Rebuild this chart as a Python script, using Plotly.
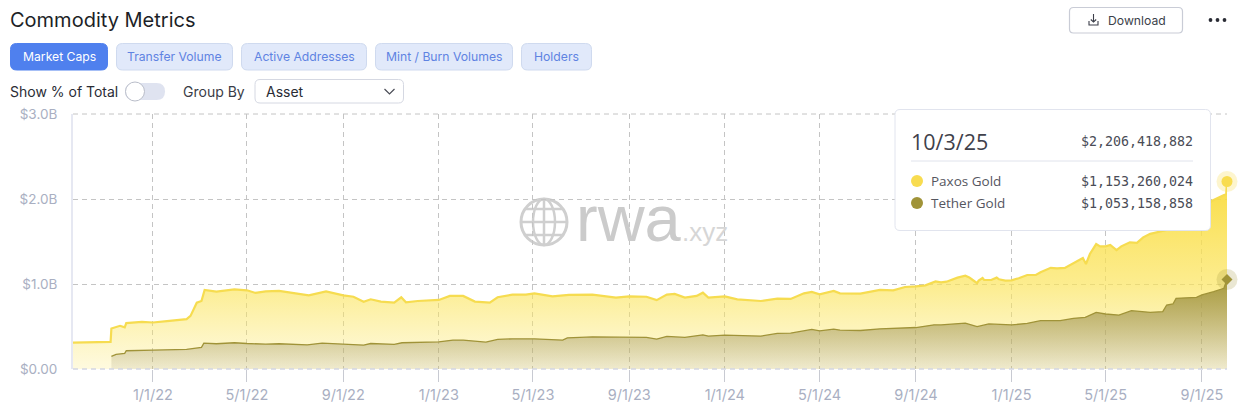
import plotly.graph_objects as go

# ---------- data ----------
total_dates = ["2021-09-21","2021-10-10","2021-10-30","2021-11-08","2021-11-09","2021-11-20","2021-11-26","2021-11-28","2021-12-18",
 "2022-01-01","2022-01-19","2022-02-13","2022-02-18","2022-02-24","2022-02-26","2022-03-04","2022-03-08","2022-03-23","2022-04-15",
 "2022-05-01","2022-05-12","2022-05-25","2022-06-11","2022-07-02","2022-07-19","2022-08-10","2022-09-01","2022-09-14","2022-09-27",
 "2022-10-06","2022-10-19","2022-11-05","2022-11-14","2022-11-20","2022-12-05","2023-01-01","2023-01-15","2023-02-01","2023-02-16",
 "2023-03-07","2023-03-17","2023-04-05","2023-04-22","2023-05-03","2023-05-26","2023-06-16","2023-07-16","2023-08-15","2023-09-01",
 "2023-09-23","2023-10-06","2023-10-19","2023-10-29","2023-11-11","2023-11-26","2023-12-04","2023-12-11","2024-01-01","2024-01-17",
 "2024-02-16","2024-03-08","2024-03-25","2024-04-11","2024-04-21","2024-05-01","2024-05-19","2024-05-27","2024-06-22","2024-07-17",
 "2024-08-03","2024-08-18","2024-09-01","2024-09-13","2024-09-26","2024-10-03","2024-10-10","2024-10-16","2024-10-24","2024-11-03","2024-11-08",
 "2024-11-12","2024-11-18","2024-11-20","2024-11-25","2024-11-27","2024-12-03","2024-12-06","2024-12-13","2024-12-16","2024-12-24","2025-01-01","2025-01-11",
 "2025-01-21","2025-02-01","2025-02-07","2025-02-20","2025-02-28","2025-03-10","2025-03-21","2025-04-02","2025-04-06","2025-04-11",
 "2025-04-19","2025-04-24","2025-05-01","2025-05-07","2025-05-15","2025-05-21","2025-06-01","2025-06-10","2025-06-18","2025-06-27","2025-07-18","2025-08-01","2025-08-12",
 "2025-09-01","2025-09-14","2025-09-29","2025-10-02","2025-10-03"]
total_values = [0.31,0.315,0.318,0.32,0.477,0.508,0.49,0.54,0.555,
 0.547,0.5625,0.586,0.625,0.734,0.78,0.80,0.93,0.91,0.9375,
 0.926,0.895,0.914,0.92,0.89,0.867,0.914,0.867,0.85,0.79,
 0.82,0.793,0.78,0.844,0.785,0.80,0.8125,0.86,0.86,0.793,
 0.78,0.844,0.875,0.875,0.89,0.855,0.871,0.875,0.84,0.855,
 0.85,0.81,0.875,0.883,0.84,0.86,0.898,0.84,0.855,0.82,
 0.80,0.828,0.824,0.89,0.906,0.879,0.918,0.89,0.887,0.93,
 0.926,0.965,0.973,0.984,1.03,1.02,1.027,1.05,1.075,1.098,1.078,
 1.05,1.01,1.04,1.07,1.047,1.043,1.047,1.075,1.055,1.04,1.043,1.07,
 1.106,1.106,1.137,1.19,1.184,1.19,1.243,1.306,1.235,1.353,
 1.47,1.443,1.443,1.46,1.40,1.443,1.49,1.485,1.549,1.59,1.635,1.68,1.78,
 1.86,1.98,2.04,2.06,2.206]

tether_dates = ["2021-11-09","2021-11-15","2021-11-26","2021-11-28","2022-01-01","2022-02-13","2022-03-04","2022-03-07","2022-03-23",
 "2022-04-15","2022-05-01","2022-05-25","2022-06-11","2022-07-17","2022-08-05","2022-09-01","2022-09-27","2022-10-06","2022-11-05",
 "2022-11-15","2022-12-05","2023-01-01","2023-01-19","2023-02-01","2023-03-02","2023-03-17","2023-04-05","2023-05-03","2023-06-08",
 "2023-06-14","2023-07-16","2023-09-01","2023-09-23","2023-10-06","2023-10-19","2023-11-11","2023-12-04","2023-12-11","2024-01-01",
 "2024-02-16","2024-03-08","2024-03-25","2024-04-11","2024-04-21","2024-05-01","2024-05-19","2024-05-27","2024-06-22","2024-07-17",
 "2024-08-15","2024-09-01","2024-09-24","2024-10-03","2024-11-03","2024-11-18","2024-12-03","2025-01-01","2025-01-21","2025-02-07",
 "2025-03-04","2025-03-21","2025-04-05","2025-04-09","2025-04-19","2025-05-01","2025-05-18","2025-06-03","2025-06-27","2025-07-13",
 "2025-07-18","2025-07-26","2025-07-30","2025-08-25","2025-09-01","2025-09-16","2025-09-29","2025-10-03"]
tether_values = [0.148,0.172,0.184,0.215,0.223,0.23,0.254,0.305,0.297,
 0.309,0.30,0.293,0.297,0.285,0.305,0.293,0.281,0.30,0.289,
 0.309,0.3125,0.32,0.34,0.34,0.316,0.348,0.355,0.355,0.34,
 0.367,0.379,0.371,0.371,0.352,0.383,0.371,0.402,0.387,0.398,
 0.387,0.418,0.422,0.453,0.465,0.449,0.469,0.457,0.453,0.473,
 0.488,0.488,0.52,0.518,0.54,0.498,0.53,0.518,0.537,0.569,
 0.569,0.596,0.608,0.627,0.667,0.647,0.635,0.686,0.667,0.675,
 0.753,0.765,0.831,0.843,0.871,0.91,0.949,1.053]

y_ticks = [0, 1, 2, 3]
y_tick_labels = ["$0.00", "$1.0B", "$2.0B", "$3.0B"]
x_ticks = ["2022-01-01","2022-05-01","2022-09-01","2023-01-01","2023-05-01","2023-09-01",
           "2024-01-01","2024-05-01","2024-09-01","2025-01-01","2025-05-01","2025-09-01"]
x_tick_labels = ["1/1/22","5/1/22","9/1/22","1/1/23","5/1/23","9/1/23",
                 "1/1/24","5/1/24","9/1/24","1/1/25","5/1/25","9/1/25"]
tabs = [("Market Caps",10,108),("Transfer Volume",116,233),("Active Addresses",241,367),
        ("Mint / Burn Volumes",375,513),("Holders",521,592)]

# ---------- page geometry helpers ----------
L, T, R, B = 73, 114, 1227, 369
def px(x): return (x - L) / (R - L)
def py(y): return (B - y) / (B - T)

shapes, annotations = [], []

def rrect(x0, y0, x1, y1, r, fill, line, lw=1, layer="above"):
    X0, X1, Y0, Y1 = px(x0), px(x1), py(y0), py(y1)
    rx, ry = r / (R - L), r / (B - T)
    path = (f"M {X0+rx} {Y0} L {X1-rx} {Y0} Q {X1} {Y0} {X1} {Y0-ry} L {X1} {Y1+ry} Q {X1} {Y1} {X1-rx} {Y1} "
            f"L {X0+rx} {Y1} Q {X0} {Y1} {X0} {Y1+ry} L {X0} {Y0-ry} Q {X0} {Y0} {X0+rx} {Y0} Z")
    shapes.append(dict(type="path", xref="paper", yref="paper", path=path, fillcolor=fill,
                       line=dict(color=line, width=lw), layer=layer))

def circle(cx, cy, r, fill, line="rgba(0,0,0,0)", lw=0, layer="above"):
    shapes.append(dict(type="circle", xref="paper", yref="paper", x0=px(cx-r), x1=px(cx+r), y0=py(cy+r), y1=py(cy-r),
                       fillcolor=fill, line=dict(color=line, width=lw), layer=layer))

def ellipse(cx, cy, rx, ry, line, lw, layer="below"):
    shapes.append(dict(type="circle", xref="paper", yref="paper", x0=px(cx-rx), x1=px(cx+rx), y0=py(cy+ry), y1=py(cy-ry),
                       fillcolor="rgba(0,0,0,0)", line=dict(color=line, width=lw), layer=layer))

def seg(pts, color, lw, layer="above", dash=None):
    path = "M " + " L ".join(f"{px(a)} {py(b)}" for a, b in pts)
    shapes.append(dict(type="path", xref="paper", yref="paper", path=path, fillcolor="rgba(0,0,0,0)",
                       line=dict(color=color, width=lw, dash=dash), layer=layer))

def text(s, x, y, size, color, family="Inter, sans-serif", anchor="left", weight=None):
    annotations.append(dict(text=s, xref="paper", yref="paper", x=px(x), y=py(y), xanchor=anchor, yanchor="middle",
                            showarrow=False, borderpad=0, borderwidth=0,
                            font=dict(size=size, color=color, family=family, weight=weight)))

# ---------- page furniture ----------
text("Commodity Metrics", 9.5, 20, 20, "#1d1f27", "Inter, sans-serif")
rrect(1069.5, 7.5, 1182.5, 33, 4, "#ffffff", "#c9ccd6", 1.2)
text("Download", 1108, 20, 12.2, "#3c3f4a")
seg([(1089, 21), (1089, 25), (1098, 25), (1098, 21)], "#3c3f4a", 1.1)
seg([(1093.5, 14), (1093.5, 22)], "#3c3f4a", 1.1)
seg([(1090.8, 19.5), (1093.5, 22), (1096.2, 19.5)], "#3c3f4a", 1.1)
for dx in (1210.5, 1217.5, 1224.5):
    circle(dx, 20, 1.9, "#2a2c35")

for i, (name, a, b) in enumerate(tabs):
    active = i == 0
    rrect(a + .5, 43.5, b - .5, 70, 6, "#4f80ee" if active else "#e1e9fa", "#4f80ee" if active else "#cfdaef", 1)
    text(name, (a + b) / 2, 56.5, 12.2, "#ffffff" if active else "#5f83e2", anchor="center")

text("Show % of Total", 10, 91, 14, "#2a2c35")
rrect(125, 83, 165, 100, 8.5, "#dfe3f0", "#dfe3f0", 0)
circle(135, 91.5, 9.5, "#ffffff", "#b9bdc9", 1)
text("Group By", 183, 91, 14, "#3a3c46")
rrect(255, 79.5, 403.5, 103, 5, "#ffffff", "#d5d8e2", 1)
text("Asset", 265.5, 91, 14, "#2a2c35")
seg([(384.5, 89), (389.5, 94), (394.5, 89)], "#4a4c56", 1.2)

# axis edge rules the library leaves out at the range limits
seg([(73, 114), (1227, 114)], "#c4c4c4", 1, "below", "5px,4px")
seg([(73, 369), (1227, 369)], "#d3d6e2", 1.4, "above", "5px,4px")

# watermark
wm = "#cfcfcf"
ellipse(544, 222, 23, 23, wm, 3)
ellipse(544, 222, 11, 23, wm, 2.5)
seg([(544, 199), (544, 245)], wm, 2.5, "below")
seg([(521, 222), (567, 222)], wm, 2.5, "below")
seg([(525, 209), (563, 209)], wm, 2.5, "below")
seg([(525, 235), (563, 235)], wm, 2.5, "below")
text("rwa", 576, 218, 65, "#cbcbcb", "Liberation Sans, sans-serif")
text(".xyz", 682, 232, 26, "#d6d6d6", "Liberation Sans, sans-serif")

# tooltip
rrect(895, 109.5, 1210.5, 230.5, 5, "#ffffff", "#e1e4ee", 1)
seg([(911, 161), (1193, 161)], "#e0e3ec", 1)
text("10/3/25", 911, 141.5, 21.5, "#3f414b", "Open Sans, sans-serif")
mono = "DejaVu Sans Mono, monospace"
text("$2,206,418,882", 1193, 141, 13.3, "#4a4c56", mono, "right")
circle(917, 181, 6, "#f8dc50")
text("Paxos Gold", 931, 181, 13.5, "#55565f", "Open Sans, sans-serif")
text("$1,153,260,024", 1193, 181, 13.3, "#4a4c56", mono, "right")
circle(917, 203, 6, "#a09338")
text("Tether Gold", 931, 203, 13.5, "#55565f", "Open Sans, sans-serif")
text("$1,053,158,858", 1193, 203, 13.3, "#4a4c56", mono, "right")

# ---------- chart ----------
fig = go.Figure()
fig.add_trace(go.Scatter(
    x=total_dates, y=total_values, name="Paxos Gold", mode="lines", fill="tozeroy",
    line=dict(color="#f6dc50", width=2.2),
    fillgradient=dict(type="vertical", colorscale=[[0, "rgba(251,232,110,0.22)"], [0.45, "rgba(251,228,90,0.68)"], [1, "rgba(249,219,60,0.95)"]]),
))
fig.add_trace(go.Scatter(
    x=tether_dates, y=tether_values, name="Tether Gold", mode="lines", fill="tozeroy",
    line=dict(color="#a09338", width=1.3),
    fillgradient=dict(type="vertical", colorscale=[[0, "rgba(150,140,100,0.14)"], [1, "rgba(160,147,56,0.92)"]]),
))
fig.add_trace(go.Scatter(
    x=total_dates[-1:], y=total_values[-1:], mode="markers", cliponaxis=False, hoverinfo="skip",
    marker=dict(size=21, color="rgba(248,220,80,0.28)"),
))
fig.add_trace(go.Scatter(
    x=total_dates[-1:], y=total_values[-1:], mode="markers", cliponaxis=False, hoverinfo="skip",
    marker=dict(symbol="circle", size=11, color="#f8dc50"),
))
fig.add_trace(go.Scatter(
    x=tether_dates[-1:], y=tether_values[-1:], mode="markers", cliponaxis=False, hoverinfo="skip",
    marker=dict(size=21, color="rgba(160,147,56,0.22)"),
))
fig.add_trace(go.Scatter(
    x=tether_dates[-1:], y=tether_values[-1:], mode="markers", cliponaxis=False, hoverinfo="skip",
    marker=dict(symbol="diamond", size=8.5, color="#a09338"),
))

grid = "#c4c4c4"
fig.update_layout(
    width=1250, height=408, showlegend=False, margin=dict(l=L, r=1250 - R, t=T, b=408 - B, autoexpand=False),
    paper_bgcolor="#ffffff", plot_bgcolor="#ffffff", shapes=shapes, annotations=annotations,
    xaxis=dict(range=["2021-09-21", "2025-10-03"], tickmode="array", tickvals=x_ticks, ticktext=x_tick_labels,
               automargin=False, showgrid=True, gridcolor=grid, griddash="5px,4px", gridwidth=1, zeroline=False, showline=False,
               ticks="outside", ticklen=12, tickcolor="#c8cad2", tickwidth=1.2, ticklabelstandoff=1,
               tickfont=dict(size=14.5, color="#a9afc2", family="Inter, sans-serif")),
    yaxis=dict(range=[0, 3], tickmode="array", tickvals=y_ticks, ticktext=y_tick_labels, automargin=False,
               showgrid=True, gridcolor=grid, griddash="5px,4px", gridwidth=1, zeroline=False,
               showline=True, linecolor="#e6e8f2", linewidth=2, ticks="", ticklabelstandoff=11,
               tickfont=dict(size=13.5, color="#a9afc2", family="Inter, sans-serif")),
)
fig.write_html("out.html", config={"displayModeBar": False},
               post_script="document.body.style.margin='0';document.body.style.overflow='hidden';")
